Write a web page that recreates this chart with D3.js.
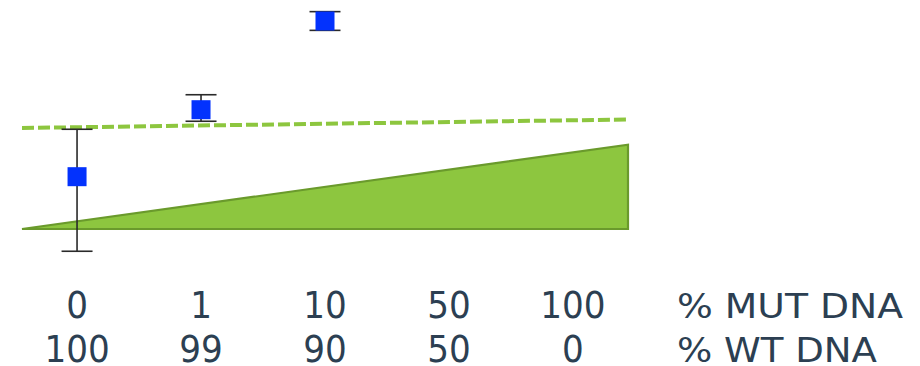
<!DOCTYPE html>
<html>
<head>
<meta charset="utf-8">
<script src="https://cdn.jsdelivr.net/npm/d3@7"></script>
<style>
  html, body { margin: 0; padding: 0; background: #ffffff; }
  svg { display: block; }
  text { font-family: "DejaVu Sans Condensed", "DejaVu Sans", sans-serif; }
  text.row-title { font-family: "DejaVu Sans", sans-serif; }
</style>
</head>
<body>
<svg id="chart" width="920" height="366"></svg>
<script>
// Dilution series: mutant / wild-type DNA mix
const mutLabels = ["0", "1", "10", "50", "100"];
const wtLabels  = ["100", "99", "90", "50", "0"];
const rowTitles = ["% MUT DNA", "% WT DNA"];

// Measured signal (mean with lower / upper error) for the first three mixes
const pointCats  = ["0", "1", "10"];
const pointMean  = [5.03, 11.47, 20.0];
const pointLow   = [-2.14, 10.36, 19.1];
const pointHigh  = [9.59, 12.91, 20.9];

// Expected signal ramp (area) and detection threshold (dashed line)
const rampValues = [0, 8.1];
const thresholdValues = [9.71, 10.53];

const svg = d3.select("#chart");

const x = d3.scalePoint()
  .domain(mutLabels)
  .range([22, 628])
  .padding(0.444);

// continuous x across the full plotting band, for the ramp and threshold
const xBand = d3.scaleLinear().domain([0, 1]).range([22, 628]);

const y = d3.scaleLinear().domain([0, 20]).range([229, 21]);

// ramp triangle
const area = d3.area()
  .x((d, i) => xBand(i))
  .y0(y(0))
  .y1(d => y(d));

svg.append("path")
  .datum(rampValues)
  .attr("d", area)
  .attr("fill", "#8dc63f")
  .attr("stroke", "#6a9a2c")
  .attr("stroke-width", 2.2)
  .attr("stroke-linejoin", "miter");

// threshold line
const line = d3.line()
  .x((d, i) => xBand(i))
  .y(d => y(d));

svg.append("path")
  .datum(thresholdValues)
  .attr("d", line)
  .attr("fill", "none")
  .attr("stroke", "#8dc63f")
  .attr("stroke-width", 4)
  .attr("stroke-dasharray", "12,4");

// error bars
const capHalf = 15.5;
const pts = pointCats.map((c, i) => ({ c, m: pointMean[i], lo: pointLow[i], hi: pointHigh[i] }));

const eb = svg.append("g")
  .attr("stroke", "#2a2a2a")
  .attr("stroke-width", 1.6)
  .attr("fill", "none");

pts.forEach(p => {
  const cx = x(p.c);
  eb.append("line").attr("x1", cx).attr("x2", cx).attr("y1", y(p.hi)).attr("y2", y(p.lo));
  eb.append("line").attr("x1", cx - capHalf).attr("x2", cx + capHalf).attr("y1", y(p.hi)).attr("y2", y(p.hi));
  eb.append("line").attr("x1", cx - capHalf).attr("x2", cx + capHalf).attr("y1", y(p.lo)).attr("y2", y(p.lo));
});

// mean markers
const sq = 19;
svg.append("g")
  .selectAll("rect")
  .data(pts)
  .join("rect")
  .attr("x", d => x(d.c) - sq / 2)
  .attr("y", d => y(d.m) - sq / 2)
  .attr("width", sq)
  .attr("height", sq)
  .attr("fill", "#0332fd");

// category labels, two rows
const textColor = "#2c3f52";
const rows = [mutLabels, wtLabels];
const baselines = [317.5, 361.5];
const titleLengths = [226, 200];

rows.forEach((labels, r) => {
  svg.append("g")
    .selectAll("text")
    .data(labels)
    .join("text")
    .attr("x", (d, i) => x(mutLabels[i]))
    .attr("y", baselines[r])
    .attr("text-anchor", "middle")
    .attr("font-size", 38)
    .attr("fill", textColor)
    .text(d => d);

  svg.append("text")
    .attr("class", "row-title")
    .attr("x", 677)
    .attr("y", baselines[r])
    .attr("font-size", 33)
    .attr("fill", textColor)
    .attr("textLength", titleLengths[r])
    .attr("lengthAdjust", "spacingAndGlyphs")
    .text(rowTitles[r]);
});
</script>
</body>
</html>
